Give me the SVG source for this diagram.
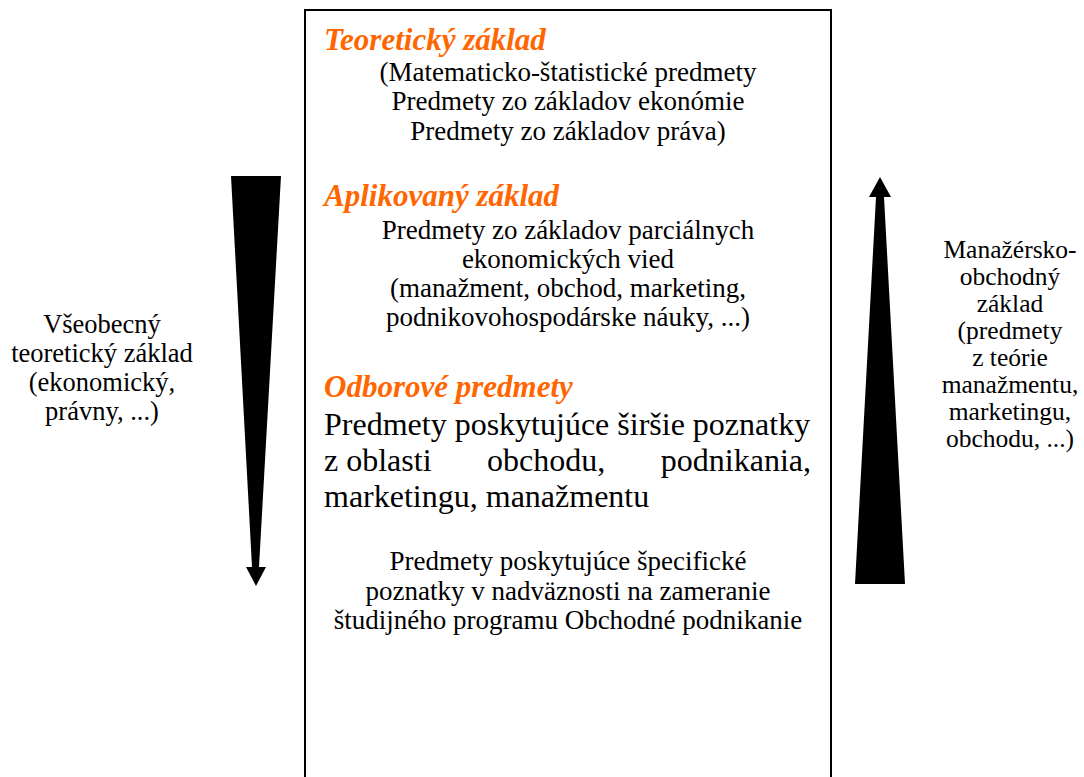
<svg xmlns="http://www.w3.org/2000/svg" width="1084" height="777" viewBox="0 0 1084 777">
<style>
  text { font-family: 'Liberation Serif', 'Times New Roman', Times, serif; fill: #000; }
  .s { font-size: 27px; }
  .l { font-size: 26.5px; }
  .r { font-size: 25.5px; }
  .b { font-size: 32px; }
  .h { font-size: 31px; font-weight: bold; font-style: italic; fill: #FF6600; }
  .c { text-anchor: middle; }
</style>
<rect width="1084" height="777" fill="#fff"/>
<g id="box">
  <rect x="305" y="10" width="526" height="780" fill="#fff" stroke="#000" stroke-width="2"/>
</g>
<g id="teoreticky">
  <text class="h" x="324" y="50">Teoretický základ</text>
  <text class="s c" x="568" y="81">(Matematicko-štatistické predmety</text>
  <text class="s c" x="568" y="110">Predmety zo základov ekonómie</text>
  <text class="s c" x="568" y="140">Predmety zo základov práva)</text>
</g>
<g id="aplikovany">
  <text class="h" x="324" y="206">Aplikovaný základ</text>
  <text class="s c" x="568" y="239">Predmety zo základov parciálnych</text>
  <text class="s c" x="568" y="268">ekonomických vied</text>
  <text class="s c" x="568" y="297">(manažment, obchod, marketing,</text>
  <text class="s c" x="568" y="326">podnikovohospodárske náuky, ...)</text>
</g>
<g id="odborove">
  <text class="h" x="324" y="397">Odborové predmety</text>
  <text class="b" x="324" y="435">Predmety poskytujúce širšie poznatky</text>
  <text class="b" x="324" y="471">z oblasti</text>
  <text class="b" x="487" y="471">obchodu,</text>
  <text class="b" x="811" y="471" text-anchor="end">podnikania,</text>
  <text class="b" x="324" y="507">marketingu, manažmentu</text>
</g>
<g id="specificke">
  <text class="s c" x="568" y="570">Predmety poskytujúce špecifické</text>
  <text class="s c" x="568" y="600">poznatky v nadväznosti na zameranie</text>
  <text class="s c" x="568" y="629">študijného programu Obchodné podnikanie</text>
</g>
<g id="left-label">
  <text class="l c" x="102" y="333">Všeobecný</text>
  <text class="l c" x="102" y="362">teoretický základ</text>
  <text class="l c" x="102" y="391">(ekonomický,</text>
  <text class="l c" x="102" y="420">právny, ...)</text>
</g>
<g id="right-label">
  <text class="r c" x="1010" y="258">Manažérsko-</text>
  <text class="r c" x="1010" y="285">obchodný</text>
  <text class="r c" x="1010" y="312">základ</text>
  <text class="r c" x="1010" y="339">(predmety</text>
  <text class="r c" x="1010" y="366">z teórie</text>
  <text class="r c" x="1010" y="393">manažmentu,</text>
  <text class="r c" x="1010" y="420">marketingu,</text>
  <text class="r c" x="1010" y="447">obchodu, ...)</text>
</g>
<g id="connectors">
  <polygon points="231,176 281,176 259,567 266,567 256,586 246,567 252,567" fill="#000"/>
  <polygon points="855,584 905,584 884,197 891,197 880,177 869,197 876,197" fill="#000"/>
</g>
</svg>
